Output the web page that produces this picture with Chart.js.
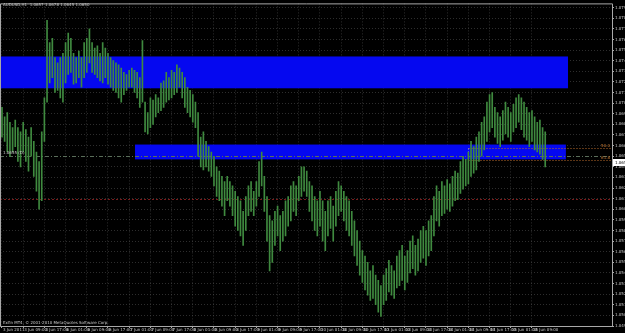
<!DOCTYPE html>
<html>
<head>
<meta charset="utf-8">
<script src="https://cdn.jsdelivr.net/npm/chart.js@4.4.0/dist/chart.umd.min.js"></script>
<style>
  html, body { margin: 0; padding: 0; background: #000; }
  canvas { display: block; }
</style>
</head>
<body>
<canvas id="chH1" width="625" height="333"></canvas>
<script>
var symbol = 'AUDUSD,H1';
var lastBar = [1.0657, 1.0678, 1.0645, 1.0650]; // open, high, low, close

var timeLabels = ['3 Jun 2011','3 Jun 09:00','3 Jun 17:00','6 Jun 01:00','6 Jun 09:00','6 Jun 17:00',
  '7 Jun 01:00','7 Jun 09:00','7 Jun 17:00','8 Jun 01:00','8 Jun 09:00','8 Jun 17:00',
  '9 Jun 01:00','9 Jun 09:00','9 Jun 17:00','10 Jun 01:00','10 Jun 09:00','10 Jun 17:00',
  '13 Jun 01:00','13 Jun 09:00','13 Jun 17:00','14 Jun 01:00','14 Jun 09:00','14 Jun 17:00',
  '15 Jun 01:00','15 Jun 09:00'];

// hourly highs / lows, 8 bars per row
var highs = [
  1.0701,1.0692,1.0696,1.0687,1.0682,1.0689,1.0682,1.0678,
  1.0687,1.0680,1.0673,1.0682,1.0669,1.0659,1.0650,1.0678,
  1.0710,1.0783,1.0762,1.0766,1.0748,1.0743,1.0748,1.0752,
  1.0762,1.0771,1.0766,1.0752,1.0748,1.0754,1.0748,1.0762,
  1.0766,1.0775,1.0762,1.0757,1.0759,1.0752,1.0762,1.0757,
  1.0752,1.0748,1.0745,1.0743,1.0741,1.0738,1.0734,1.0732,
  1.0736,1.0738,1.0736,1.0734,1.0729,1.0764,1.0706,1.0696,
  1.0710,1.0708,1.0713,1.0710,1.0724,1.0726,1.0734,1.0729,
  1.0736,1.0734,1.0741,1.0738,1.0734,1.0729,1.0720,1.0717,
  1.0713,1.0706,1.0696,1.0673,1.0678,1.0669,1.0664,1.0659,
  1.0655,1.0645,1.0641,1.0636,1.0631,1.0636,1.0631,1.0627,
  1.0622,1.0617,1.0613,1.0603,1.0617,1.0627,1.0631,1.0622,
  1.0631,1.0650,1.0659,1.0636,1.0617,1.0599,1.0594,1.0603,
  1.0608,1.0599,1.0603,1.0613,1.0617,1.0627,1.0631,1.0627,
  1.0636,1.0645,1.0645,1.0641,1.0631,1.0627,1.0617,1.0613,
  1.0622,1.0613,1.0603,1.0613,1.0617,1.0608,1.0622,1.0631,
  1.0627,1.0622,1.0617,1.0613,1.0603,1.0594,1.0585,1.0575,
  1.0566,1.0561,1.0555,1.0547,1.0552,1.0543,1.0538,1.0533,
  1.0543,1.0549,1.0557,1.0552,1.0547,1.0561,1.0566,1.0571,
  1.0561,1.0566,1.0575,1.0580,1.0571,1.0577,1.0585,1.0589,
  1.0585,1.0594,1.0599,1.0617,1.0627,1.0622,1.0631,1.0627,
  1.0633,1.0629,1.0636,1.0641,1.0639,1.0650,1.0655,1.0652,
  1.0659,1.0669,1.0664,1.0673,1.0678,1.0687,1.0692,1.0706,
  1.0713,1.0715,1.0701,1.0696,1.0692,1.0698,1.0706,1.0701,
  1.0696,1.0704,1.0710,1.0713,1.0710,1.0706,1.0701,1.0696,
  1.0698,1.0692,1.0687,1.0689,1.0682,1.0678
];
var lows = [
  1.0673,1.0669,1.0659,1.0655,1.0659,1.0664,1.0650,1.0645,
  1.0659,1.0650,1.0641,1.0655,1.0636,1.0622,1.0605,1.0613,
  1.0669,1.0706,1.0724,1.0729,1.0715,1.0717,1.0710,1.0706,
  1.0724,1.0732,1.0734,1.0723,1.0724,1.0729,1.0720,1.0729,
  1.0734,1.0743,1.0734,1.0732,1.0729,1.0726,1.0724,1.0729,
  1.0723,1.0720,1.0717,1.0715,1.0710,1.0706,1.0713,1.0717,
  1.0720,1.0720,1.0715,1.0710,1.0701,1.0706,1.0678,1.0676,
  1.0682,1.0685,1.0692,1.0696,1.0698,1.0701,1.0706,1.0708,
  1.0710,1.0713,1.0715,1.0720,1.0710,1.0701,1.0696,1.0692,
  1.0687,1.0682,1.0655,1.0645,1.0642,1.0645,1.0641,1.0636,
  1.0627,1.0617,1.0613,1.0608,1.0599,1.0613,1.0608,1.0599,
  1.0589,1.0585,1.0580,1.0571,1.0585,1.0599,1.0603,1.0599,
  1.0608,1.0617,1.0627,1.0603,1.0575,1.0547,1.0555,1.0571,
  1.0580,1.0566,1.0575,1.0580,1.0589,1.0594,1.0603,1.0599,
  1.0613,1.0617,1.0622,1.0617,1.0603,1.0594,1.0585,1.0580,
  1.0589,1.0575,1.0566,1.0580,1.0587,1.0575,1.0589,1.0599,
  1.0603,1.0594,1.0585,1.0580,1.0571,1.0561,1.0552,1.0543,
  1.0536,1.0529,1.0524,1.0519,1.0521,1.0515,1.0508,1.0504,
  1.0515,1.0519,1.0527,1.0524,1.0521,1.0531,1.0533,1.0538,
  1.0529,1.0536,1.0545,1.0549,1.0543,1.0547,1.0555,1.0559,
  1.0552,1.0561,1.0566,1.0580,1.0594,1.0589,1.0599,1.0601,
  1.0605,1.0603,1.0608,1.0613,1.0614,1.0620,1.0624,1.0627,
  1.0629,1.0636,1.0639,1.0642,1.0650,1.0655,1.0661,1.0669,
  1.0678,1.0682,1.0673,1.0667,1.0664,1.0670,1.0676,1.0673,
  1.0669,1.0678,1.0682,1.0687,1.0680,1.0673,1.0670,1.0664,
  1.0669,1.0661,1.0659,1.0657,1.0652,1.0645
];

var priceTicks = [1.0495,1.0505,1.0515,1.0525,1.0535,1.0545,1.0555,1.0565,1.0575,1.0585,
  1.0595,1.0605,1.0615,1.0625,1.0635,1.0645,1.0655,1.0665,1.0675,1.0685,
  1.0695,1.0705,1.0715,1.0725,1.0735,1.0745,1.0755,1.0765,1.0775,1.0785,1.0795];

// blue supply/demand boxes: bar index range and price range
var zoneFrom = [-1, 50.2];
var zoneTo = [213.6, 212.8];
var zoneTop = [1.0749, 1.0666];
var zoneBottom = [1.0719, 1.0652];

// horizontal lines
var linePrices = [1.0655, 1.0615];
var lineNote = '1.0655 (D)';

// fibo levels drawn from bar 175.8 to the right edge
var fiboFrom = 175.8;
var fiboPrices = [1.0663, 1.0651];
var fiboNames = ['50.0', '61.8'];

var barColor = '#3f8a3f';
var gridColor = 'rgba(90,90,90,0.5)';
var axisColor = '#a8a8a8';
var textColor = '#c8c8c8';
var tinyFont = '4px "DejaVu Sans"';

var bars = highs.map(function (h, i) { return { x: i, y: [lows[i], h] }; });

var mt4Plugin = {
  id: 'mt4',
  beforeDatasetsDraw: function (chart) {
    var ctx = chart.ctx, a = chart.chartArea, sx = chart.scales.x, sy = chart.scales.y;
    ctx.save();
    ctx.beginPath();
    ctx.rect(a.left, a.top, a.right - a.left, a.bottom - a.top);
    ctx.clip();

    ctx.fillStyle = '#0508f0';
    for (var k = 0; k < zoneFrom.length; k++) {
      var x1 = sx.getPixelForValue(zoneFrom[k]), x2 = sx.getPixelForValue(zoneTo[k]);
      var y1 = sy.getPixelForValue(zoneTop[k]), y2 = sy.getPixelForValue(zoneBottom[k]);
      ctx.fillRect(x1, y1, x2 - x1, y2 - y1);
    }

    // grey dash-dot line and dotted red line
    ctx.lineWidth = 1;
    var ly = Math.round(sy.getPixelForValue(linePrices[0])) + 0.5;
    ctx.strokeStyle = '#5a6e5a';
    ctx.setLineDash([4, 2, 1, 2]);
    ctx.beginPath(); ctx.moveTo(a.left, ly); ctx.lineTo(a.right, ly); ctx.stroke();
    ly = Math.round(sy.getPixelForValue(linePrices[1])) + 0.5;
    ctx.strokeStyle = '#7a1c1c';
    ctx.setLineDash([2, 2]);
    ctx.beginPath(); ctx.moveTo(a.left, ly); ctx.lineTo(a.right, ly); ctx.stroke();

    // fibo
    var fx = Math.round(sx.getPixelForValue(fiboFrom)) + 0.5;
    ctx.setLineDash([1, 2]);
    ctx.strokeStyle = '#b86a2a';
    var fy = fiboPrices.map(function (p) { return Math.round(sy.getPixelForValue(p)) + 0.5; });
    fy.forEach(function (yy) {
      ctx.beginPath(); ctx.moveTo(fx, yy); ctx.lineTo(a.right, yy); ctx.stroke();
    });
    ctx.strokeStyle = '#9aa4d8';
    ctx.beginPath(); ctx.moveTo(fx, fy[0]); ctx.lineTo(fx, fy[1]); ctx.stroke();
    ctx.setLineDash([]);
    ctx.font = tinyFont;
    ctx.fillStyle = '#c87a34';
    ctx.textAlign = 'right';
    ctx.textBaseline = 'bottom';
    fy.forEach(function (yy, k) { ctx.fillText(fiboNames[k], a.right - 2, yy - 1); });
    ctx.restore();
  },
  afterDraw: function (chart) {
    var ctx = chart.ctx, a = chart.chartArea, sy = chart.scales.y;
    ctx.save();
    ctx.strokeStyle = axisColor;
    ctx.lineWidth = 1;
    ctx.beginPath();
    ctx.moveTo(a.left + 0.5, a.top + 0.5);
    ctx.lineTo(a.right + 0.5, a.top + 0.5);
    ctx.lineTo(a.right + 0.5, a.bottom + 0.5);
    ctx.lineTo(a.left + 0.5, a.bottom + 0.5);
    ctx.closePath();
    ctx.stroke();

    ctx.font = tinyFont;
    ctx.fillStyle = textColor;
    ctx.textAlign = 'left';
    ctx.textBaseline = 'top';
    ctx.fillText(symbol + '  ' + lastBar.map(function (v) { return v.toFixed(4); }).join(' '), 3, 3);
    ctx.textBaseline = 'bottom';
    ctx.fillText('Exfin MT4, \u00a9 2001-2010 MetaQuotes Software Corp.', 3, a.bottom - 1);
    ctx.fillText(lineNote, 3, Math.round(sy.getPixelForValue(linePrices[0])) - 1);

    // current price tag
    var cy = Math.round(sy.getPixelForValue(lastBar[3]));
    ctx.fillStyle = '#ffffff';
    ctx.fillRect(a.right + 1, cy - 3, 13, 7);
    ctx.fillStyle = '#000000';
    ctx.textBaseline = 'middle';
    ctx.fillText(lastBar[3].toFixed(4), a.right + 3, cy + 0.5);
    ctx.restore();
  }
};

new Chart(document.getElementById('chH1'), {
  type: 'bar',
  data: {
    datasets: [{
      data: bars,
      backgroundColor: barColor,
      borderWidth: 0,
      barThickness: 1,
      grouped: false
    }]
  },
  options: {
    responsive: false,
    animation: false,
    devicePixelRatio: 1,
    layout: { padding: 0 },
    plugins: { legend: { display: false }, tooltip: { enabled: false } },
    scales: {
      x: {
        type: 'linear', min: -0.75, max: 230.2, offset: false,
        afterFit: function (s) { s.height = 7; },
        afterBuildTicks: function (s) {
          s.ticks = timeLabels.map(function (t, k) { return { value: k * 8 }; });
        },
        grid: { color: gridColor, offset: false, tickLength: 2, tickColor: axisColor, tickBorderDash: [] },
        border: { display: false, dash: [1, 2] },
        ticks: {
          autoSkip: false, maxRotation: 0, minRotation: 0, align: 'start', padding: 0, labelOffset: 1,
          color: textColor, font: { size: 4, family: 'DejaVu Sans' },
          callback: function (v, idx) { return timeLabels[idx]; }
        }
      },
      y: {
        position: 'right', min: 1.0495, max: 1.0799,
        afterFit: function (s) { s.width = 13; },
        afterBuildTicks: function (s) {
          s.ticks = priceTicks.map(function (v) { return { value: v }; });
        },
        grid: { color: gridColor, tickLength: 2, tickColor: axisColor, tickBorderDash: [] },
        border: { display: false, dash: [1, 2] },
        ticks: {
          padding: 1, color: textColor, font: { size: 4, family: 'DejaVu Sans' },
          callback: function (v) { return v.toFixed(4); }
        }
      }
    }
  },
  plugins: [mt4Plugin]
});
</script>
</body>
</html>
